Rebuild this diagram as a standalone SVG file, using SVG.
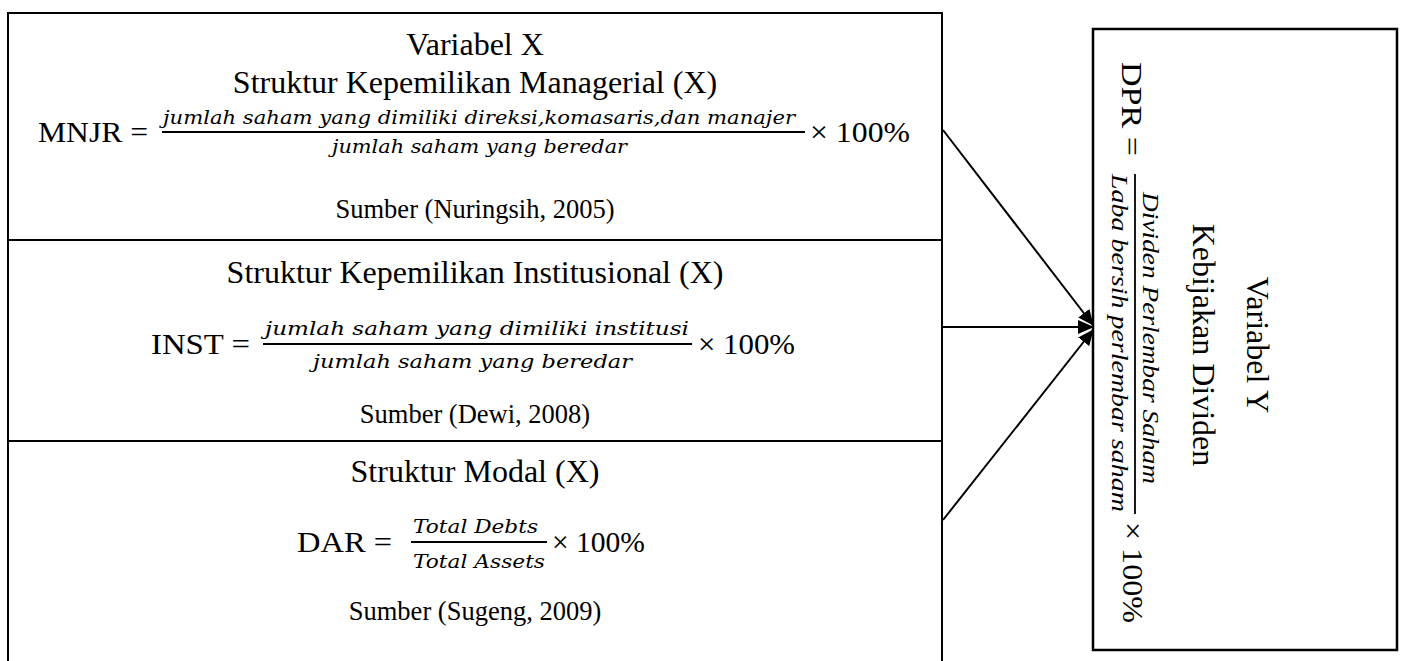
<svg xmlns="http://www.w3.org/2000/svg" width="1402" height="661" viewBox="0 0 1402 661">
<style>
.box{fill:#fff;stroke:#000;stroke-width:2}
.div{stroke:#000;stroke-width:2}
.t{font-family:"Liberation Serif","Times New Roman",serif;fill:#000}
.title{font-size:32px;text-anchor:middle}
.src{font-size:26.5px;text-anchor:middle}
.eq{font-size:30px}
.fr{font-family:"DejaVu Serif",serif;font-style:italic;font-size:19px;fill:#000}
.fri{font-family:"Liberation Serif","Times New Roman",serif;font-style:italic;font-size:23px;fill:#000}
.fl{stroke:#000;stroke-width:1.8}
.conn{stroke:#000;stroke-width:2;fill:none}
</style>
<defs>
<marker id="ah" markerUnits="userSpaceOnUse" markerWidth="16" markerHeight="14" refX="15" refY="7" orient="auto">
<path d="M0,0 L16,7 L0,14 Z" fill="#000"/>
</marker>
</defs>
<rect width="1402" height="661" fill="#fff"/>
<g id="variabel-x">
<rect class="box" x="8" y="13" width="934" height="660"/>
<line class="div" x1="8" y1="240" x2="942" y2="240"/>
<line class="div" x1="8" y1="441" x2="942" y2="441"/>
</g>
<g id="managerial">
<text class="t title" x="475" y="55">Variabel X</text>
<text class="t title" x="475" y="93">Struktur Kepemilikan Managerial (X)</text>
<text class="t eq" x="38" y="142" textLength="110" lengthAdjust="spacingAndGlyphs">MNJR =</text>
<text class="fr" x="163" y="124" textLength="632" lengthAdjust="spacingAndGlyphs">jumlah saham yang dimiliki direksi,komasaris,dan manajer</text>
<line class="fl" x1="162" y1="132" x2="805" y2="132"/>
<text class="fr" x="332" y="153" textLength="295" lengthAdjust="spacingAndGlyphs">jumlah saham yang beredar</text>
<text class="t eq" x="810" y="142" textLength="100" lengthAdjust="spacingAndGlyphs">× 100%</text>
<text class="t src" x="475" y="218">Sumber (Nuringsih, 2005)</text>
</g>
<g id="institusional">
<text class="t title" x="475" y="283">Struktur Kepemilikan Institusional (X)</text>
<text class="t eq" x="151" y="354" textLength="99" lengthAdjust="spacingAndGlyphs">INST =</text>
<text class="fr" x="265" y="335" textLength="424" lengthAdjust="spacingAndGlyphs">jumlah saham yang dimiliki institusi</text>
<line class="fl" x1="263" y1="344" x2="692" y2="344"/>
<text class="fr" x="313" y="368" textLength="319" lengthAdjust="spacingAndGlyphs">jumlah saham yang beredar</text>
<text class="t eq" x="698" y="354" textLength="97" lengthAdjust="spacingAndGlyphs">× 100%</text>
<text class="t src" x="475" y="423">Sumber (Dewi, 2008)</text>
</g>
<g id="modal">
<text class="t title" x="475" y="482">Struktur Modal (X)</text>
<text class="t eq" x="297" y="552" textLength="95" lengthAdjust="spacingAndGlyphs">DAR =</text>
<text class="fr" x="413" y="533" textLength="125" lengthAdjust="spacingAndGlyphs">Total Debts</text>
<line class="fl" x1="411" y1="542" x2="547" y2="542"/>
<text class="fr" x="413" y="568" textLength="132" lengthAdjust="spacingAndGlyphs">Total Assets</text>
<text class="t eq" x="552" y="552" textLength="93" lengthAdjust="spacingAndGlyphs">× 100%</text>
<text class="t src" x="475" y="620">Sumber (Sugeng, 2009)</text>
</g>
<g id="variabel-y">
<rect class="box" x="1093" y="29" width="304" height="621" style="stroke-width:2.5"/>
<line class="fl" x1="1135" y1="174" x2="1135" y2="514"/>
<g transform="rotate(90)">
<text class="t title" x="345" y="-1247">Variabel Y</text>
<text class="t title" x="345" y="-1193">Kebijakan Dividen</text>
<text class="t eq" x="62" y="-1122" textLength="94" lengthAdjust="spacingAndGlyphs">DPR =</text>
<text class="fri" x="192" y="-1143" textLength="292" lengthAdjust="spacingAndGlyphs">Dividen Perlembar Saham</text>
<text class="fri" x="174" y="-1112" textLength="338" lengthAdjust="spacingAndGlyphs">Laba bersih perlembar saham</text>
<text class="t eq" x="522" y="-1123" textLength="101" lengthAdjust="spacingAndGlyphs">× 100%</text>
</g>
</g>
<g id="connectors">
<line class="conn" x1="943" y1="130" x2="1093" y2="325" marker-end="url(#ah)"/>
<line class="conn" x1="943" y1="327" x2="1093" y2="327" marker-end="url(#ah)"/>
<line class="conn" x1="943" y1="520" x2="1093" y2="330" marker-end="url(#ah)"/>
</g>
</svg>
